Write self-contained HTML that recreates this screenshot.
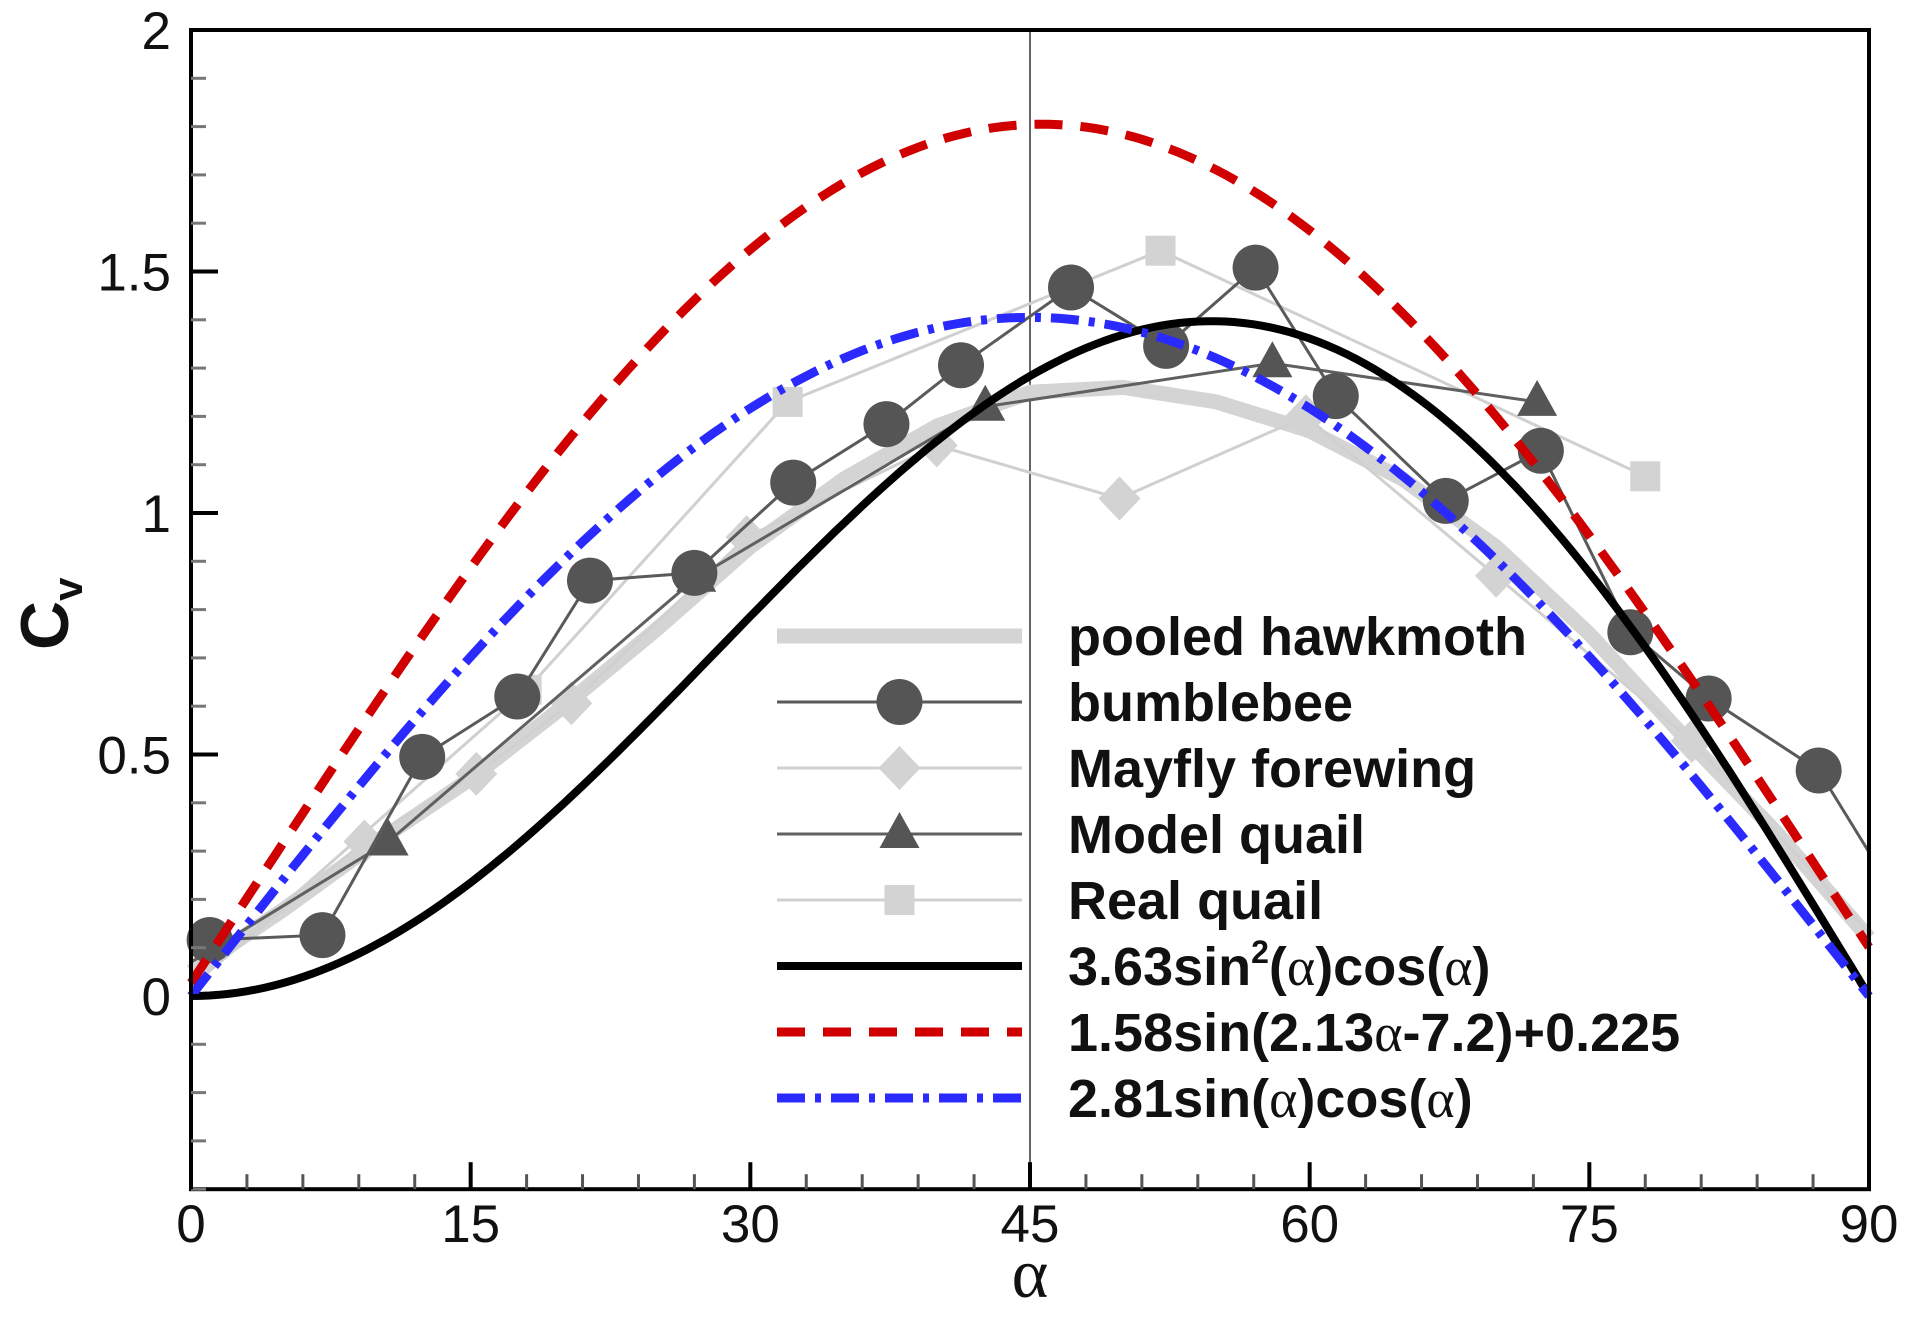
<!DOCTYPE html>
<html><head><meta charset="utf-8"><style>
html,body{margin:0;padding:0;background:#fff;}
svg{display:block;}
text{font-family:"Liberation Sans",sans-serif;}
.ser{font-family:"Liberation Serif",serif;font-weight:normal;}
</style></head><body>
<svg id="chart" width="1911" height="1317" viewBox="0 0 1911 1317" xmlns="http://www.w3.org/2000/svg">
<g id="plot"></g>
</svg>
<script>
const xTicks=[0,15,30,45,60,75,90];
const yTicks=[0,0.5,1,1.5,2];
const yTickLabels=["0","0.5","1","1.5","2"];
const hawkX=[0,5,10,15,20,25,30,35,40,45,50,55,60,65,70,75,80,85,90];
const hawkY=[0.05,0.18,0.32,0.45,0.6,0.76,0.93,1.07,1.18,1.25,1.26,1.23,1.17,1.07,0.93,0.75,0.54,0.34,0.12];
const beeX=[1.0,7.05,12.4,17.5,21.4,27.0,32.3,37.3,41.3,47.2,52.3,57.1,61.4,67.3,72.4,77.2,81.4,87.3,90];
const beeY=[0.116,0.126,0.495,0.62,0.86,0.876,1.063,1.184,1.306,1.467,1.346,1.508,1.242,1.025,1.129,0.753,0.616,0.467,0.298];
const flyX=[0,9.3,15.3,20.4,29.8,40.0,49.8,59.8,70.0,80.5,90];
const flyY=[0.02,0.32,0.46,0.606,0.95,1.14,1.03,1.2,0.87,0.528,0.13];
const mqX=[0,10.6,27.1,42.6,58.0,72.2];
const mqY=[0.07,0.32,0.866,1.22,1.31,1.23];
const rqX=[0,18,32,52,78];
const rqY=[0.02,0.634,1.23,1.543,1.076];
const X0=191,X1=1869,Y0=996,PU=483;
const sx=v=>X0+(X1-X0)*v/90;
const sy=v=>Y0-v*PU;
const NS="http://www.w3.org/2000/svg";
const plot=document.getElementById('plot');
function mk(tag,attrs,parent){const e=document.createElementNS(NS,tag);for(const k in attrs)e.setAttribute(k,attrs[k]);(parent||plot).appendChild(e);return e;}
const D=Math.PI/180;
function fnPath(f){let d="";for(let a=0;a<=90;a+=0.5){d+=(a?"L":"M")+sx(a).toFixed(1)+","+sy(f(a)).toFixed(1);}return d;}
function poly(xs,ys){return xs.map((x,i)=>(i?"L":"M")+sx(x).toFixed(1)+","+sy(ys[i]).toFixed(1)).join("");}
let e;
e=mk('line',{x1:sx(45),x2:sx(45),y1:sy(2),y2:sy(-0.4),stroke:'#333','stroke-width':1.5});


e=mk('path',{d:poly(hawkX,hawkY),fill:'none',stroke:'#d4d4d4','stroke-width':15,'stroke-linejoin':'round'});


e=mk('path',{d:poly(rqX,rqY),fill:'none',stroke:'#d0d0d0','stroke-width':3});


rqX.forEach((x,i)=>{if(i===0)return;const m=mk('rect',{x:sx(x)-15,y:sy(rqY[i])-15,width:30,height:30,fill:'#d3d3d3'});

});
e=mk('path',{d:poly(flyX,flyY),fill:'none',stroke:'#d0d0d0','stroke-width':3});


flyX.forEach((x,i)=>{if(i===0||i===flyX.length-1)return;const cx=sx(x),cy=sy(flyY[i]);const m=mk('polygon',{points:`${cx},${cy-22} ${cx+21},${cy} ${cx},${cy+22} ${cx-21},${cy}`,fill:'#d3d3d3'});

});
e=mk('path',{d:poly(mqX,mqY),fill:'none',stroke:'#606060','stroke-width':3});


mqX.forEach((x,i)=>{if(i===0)return;const cx=sx(x),cy=sy(mqY[i]);const m=mk('polygon',{points:`${cx},${cy-22} ${cx+20},${cy+14} ${cx-20},${cy+14}`,fill:'#555'});

});
e=mk('path',{d:poly(beeX,beeY),fill:'none',stroke:'#5a5a5a','stroke-width':3});


beeX.forEach((x,i)=>{if(i===beeX.length-1)return;const m=mk('circle',{cx:sx(x),cy:sy(beeY[i]),r:23,fill:'#555'});

});
e=mk('path',{d:fnPath(a=>3.63*Math.sin(a*D)**2*Math.cos(a*D)),fill:'none',stroke:'#000','stroke-width':8});


e=mk('path',{d:fnPath(a=>1.58*Math.sin((2.13*a-7.2)*D)+0.225),fill:'none',stroke:'#d00000','stroke-width':9,'stroke-dasharray':'28 18'});


e=mk('path',{d:fnPath(a=>2.81*Math.sin(a*D)*Math.cos(a*D)),fill:'none',stroke:'#2a2aff','stroke-width':9,'stroke-dasharray':'28 10 6 10'});


e=mk('rect',{x:X0,y:sy(2),width:X1-X0,height:sy(-0.4)-sy(2),fill:'none',stroke:'#000','stroke-width':4});


for(let k=-4;k<=20;k++){const v=k/10;const y=sy(v);const maj=k%5===0;mk('line',{x1:X0,x2:X0+(maj?27:15),y1:y,y2:y,stroke:maj?'#000':'#777','stroke-width':maj?4:3});}
yTicks.forEach((v,i)=>{const t=mk('text',{x:X0-20,y:sy(v)+19,'text-anchor':'end','font-size':53,fill:'#111'});t.textContent=yTickLabels[i];

});
for(let a=0;a<=90;a+=3){const x=sx(a);const maj=a%15===0;mk('line',{x1:x,x2:x,y1:sy(-0.4),y2:sy(-0.4)-(maj?27:15),stroke:maj?'#000':'#555','stroke-width':maj?4:3});}
xTicks.forEach(v=>{const t=mk('text',{x:sx(v),y:1242,'text-anchor':'middle','font-size':53,fill:'#111'});t.textContent=String(v);

});
e=mk('text',{x:1030,y:1297,'text-anchor':'middle','font-size':70,fill:'#111',style:'font-family:"Liberation Serif",serif'});e.textContent='α';


e=mk('text',{x:0,y:0,'font-size':68,'font-weight':'bold',fill:'#111',transform:'translate(68,650) rotate(-90)'});
e.innerHTML='C<tspan font-size="42" dy="14">v</tspan>';


const lg=mk('g',{});


const LX0=777,LX1=1022,LT=1068,LY=636,LD=66;
const labels=["pooled hawkmoth","bumblebee","Mayfly forewing","Model quail","Real quail","3.63sin²(α)cos(α)","1.58sin(2.13α-7.2)+0.225","2.81sin(α)cos(α)"];
const styles=[{s:'#d4d4d4',w:15},{s:'#5a5a5a',w:3},{s:'#d0d0d0',w:3},{s:'#606060',w:3},{s:'#d0d0d0',w:3},{s:'#000',w:8},{s:'#d00000',w:9,d:'28 18'},{s:'#2a2aff',w:9,d:'28 10 6 10'}];
labels.forEach((lab,i)=>{const y=LY+i*LD;const st=styles[i];
const ent=mk('g',{},lg);


const a={x1:LX0,x2:LX1,y1:y,y2:y,stroke:st.s,'stroke-width':st.w};if(st.d)a['stroke-dasharray']=st.d;mk('line',a,ent);
const cx=(LX0+LX1)/2;
if(i===1)mk('circle',{cx:cx,cy:y,r:23,fill:'#555'},ent);
if(i===2)mk('polygon',{points:`${cx},${y-22} ${cx+21},${y} ${cx},${y+22} ${cx-21},${y}`,fill:'#d3d3d3'},ent);
if(i===3)mk('polygon',{points:`${cx},${y-22} ${cx+20},${y+14} ${cx-20},${y+14}`,fill:'#555'},ent);
if(i===4)mk('rect',{x:cx-15,y:y-15,width:30,height:30,fill:'#d3d3d3'},ent);
const t=mk('text',{x:LT,y:y+19,'font-size':54,'font-weight':'bold',fill:'#111'},ent);
const html=lab.replace(/α/g,'<tspan class="ser">α</tspan>');
if(i===5){t.innerHTML='3.63sin<tspan font-size="32" dy="-22">2</tspan><tspan dy="22">(</tspan><tspan class="ser">α</tspan>)cos(<tspan class="ser">α</tspan>)';}else t.innerHTML=html;
});
</script>
</body></html>
